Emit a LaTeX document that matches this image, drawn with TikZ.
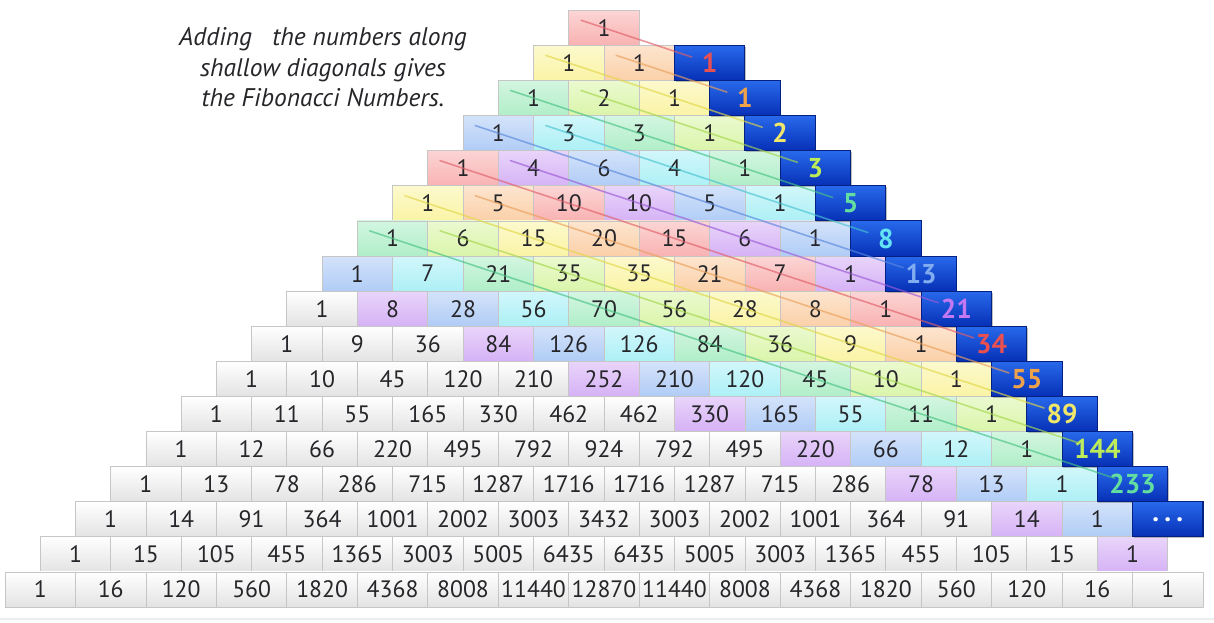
\documentclass[tikz,border=0pt]{standalone}
\usepackage{fontspec}
\setmainfont{PT Sans}
\usetikzlibrary{calc,shadows}
\definecolor{ink}{RGB}{38,38,42}
\definecolor{edge}{RGB}{198,198,198}
\definecolor{fibtop}{RGB}{40,105,235}
\definecolor{fibbot}{RGB}{6,48,182}
\definecolor{fibedge}{RGB}{4,32,130}
% pastel fill, line and label tint for each of the eight diagonal hues
\definecolor{hue0}{RGB}{249,178,178}
\definecolor{hue1}{RGB}{251,208,168}
\definecolor{hue2}{RGB}{250,244,165}
\definecolor{hue3}{RGB}{218,245,170}
\definecolor{hue4}{RGB}{176,238,200}
\definecolor{hue5}{RGB}{172,240,246}
\definecolor{hue6}{RGB}{176,204,246}
\definecolor{hue7}{RGB}{214,178,246}
\definecolor{line0}{RGB}{225,95,105}
\definecolor{line1}{RGB}{235,160,90}
\definecolor{line2}{RGB}{225,215,70}
\definecolor{line3}{RGB}{165,215,75}
\definecolor{line4}{RGB}{70,195,130}
\definecolor{line5}{RGB}{70,195,210}
\definecolor{line6}{RGB}{90,135,220}
\definecolor{line7}{RGB}{155,90,215}
\definecolor{tint0}{RGB}{235,80,80}
\definecolor{tint1}{RGB}{240,162,75}
\definecolor{tint2}{RGB}{240,230,105}
\definecolor{tint3}{RGB}{190,235,90}
\definecolor{tint4}{RGB}{100,222,160}
\definecolor{tint5}{RGB}{100,228,242}
\definecolor{tint6}{RGB}{130,172,240}
\definecolor{tint7}{RGB}{195,120,242}
\tikzset{
  cell/.style={draw=edge, line width=0.5pt, minimum width=1.4094cm, minimum height=0.702cm,
               inner sep=0pt, font=\fontsize{13.5}{14}\selectfont, text=ink},
  plain/.style={cell, top color=white, bottom color=black!11},
  tinted/.style={cell, top color=#1!55!white, bottom color=#1},
  fibbox/.style={draw=fibedge, line width=0.6pt, top color=fibtop, bottom color=fibbot,
               minimum width=1.4094cm, minimum height=0.702cm, inner sep=0pt,
               font=\fontsize{15.5}{16}\selectfont\bfseries,
               drop shadow={shadow xshift=0.6pt, shadow yshift=-0.8pt, opacity=0.5}},
  diag/.style={line width=0.9pt, opacity=0.65, line cap=round},
}

\begin{document}
\begin{tikzpicture}
  \useasboundingbox[fill=white] (0,0) rectangle (24.28,-12.44);
  \draw[black!7, line width=0.8pt] (0,-12.38) -- (24.28,-12.38);

  \node[font=\fontsize{14.5}{17.4}\selectfont\itshape, text=ink, align=center,
        anchor=north, inner sep=0pt] (title) at (6.46,-0.54)
    {Adding\ \ \ the numbers along\\shallow diagonals gives\\the Fibonacci Numbers.};

  \foreach \row [count=\n from 0] in {{1},{1,1},{1,2,1},{1,3,3,1},{1,4,6,4,1},
      {1,5,10,10,5,1},{1,6,15,20,15,6,1},{1,7,21,35,35,21,7,1},
      {1,8,28,56,70,56,28,8,1},{1,9,36,84,126,126,84,36,9,1},
      {1,10,45,120,210,252,210,120,45,10,1},{1,11,55,165,330,462,462,330,165,55,11,1},
      {1,12,66,220,495,792,924,792,495,220,66,12,1},
      {1,13,78,286,715,1287,1716,1716,1287,715,286,78,13,1},
      {1,14,91,364,1001,2002,3003,3432,3003,2002,1001,364,91,14,1},
      {1,15,105,455,1365,3003,5005,6435,6435,5005,3003,1365,455,105,15,1},
      {1,16,120,560,1820,4368,8008,11440,12870,11440,8008,4368,1820,560,120,16,1}} {
    \foreach \v [count=\i from 0] in \row {
      \pgfmathtruncatemacro\m{2*\n+1-\i}
      \pgfmathtruncatemacro\k{mod(\m-1,8)}
      \pgfmathsetmacro\cx{12.08+(\i-\n/2)*1.4094}
      \pgfmathsetmacro\cy{-0.558-\n*0.702}
      \ifnum\m<17
        \node[tinted=hue\k] (c-\n-\i) at (\cx,\cy) {\v};
      \else
        \node[plain] (c-\n-\i) at (\cx,\cy) {\v};
      \fi
    }
  }

  \foreach \r/\val in {1/1,2/1,3/2,4/3,5/5,6/8,7/13,8/21,9/34,10/55,11/89,12/144,13/233} {
    \pgfmathtruncatemacro\k{mod(\r-1,8)}
    \node[fibbox, text=tint\k] (f-\r) at ({12.08+(\r/2+1)*1.4094},{-0.558-\r*0.702}) {\val};
  }
  \node[fibbox, text=white] (f-14) at ({12.08+8*1.4094},{-0.558-14*0.702})
    {.\hspace{3pt}.\hspace{3pt}.};

  \foreach \m in {1,...,13} {
    \pgfmathtruncatemacro\k{mod(\m-1,8)}
    \pgfmathtruncatemacro\kk{floor((\m-1)/2)}
    \pgfmathtruncatemacro\rr{\m-1-\kk}
    \pgfmathtruncatemacro\ii{\m-1-2*\kk}
    \draw[diag, draw=line\k] ($(c-\rr-\ii)+(-0.46,0.153)$) -- ($(f-\m)+(-0.36,0.12)$);
  }
\end{tikzpicture}
\end{document}
